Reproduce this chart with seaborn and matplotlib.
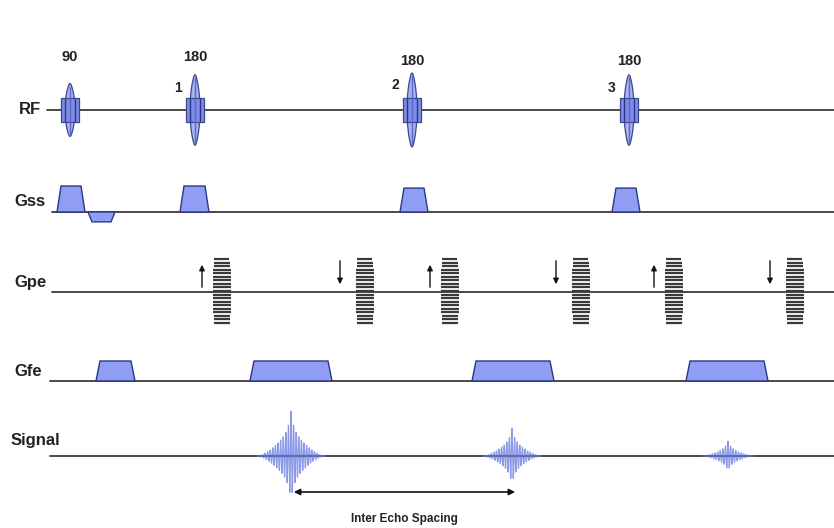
import numpy as np
import pandas as pd
import matplotlib
matplotlib.use("Agg")
import matplotlib.pyplot as plt
import seaborn as sns
from matplotlib.patches import FancyArrowPatch

# ---------------- data (time axis in drawing units) ----------------
row_names = ["RF", "Gss", "Gpe", "Gfe", "Signal"]

rf_times = [70, 195, 412, 629]
rf_flip_labels = ["90", "180", "180", "180"]
rf_index_labels = ["", "1", "2", "3"]
rf_strength = [0.75, 1.0, 1.05, 1.0]

gss_start = [57, 88, 180, 400, 612]
gss_end = [85, 115, 209, 428, 640]
gss_amp = [1.0, -0.38, 1.0, 0.92, 0.92]

gpe_times = [222, 365, 450, 581, 674, 795]
gpe_dirs = ["up", "down", "up", "down", "up", "down"]

gfe_start = [96, 250, 472, 686]
gfe_end = [135, 332, 554, 768]
gfe_amp = [1.0, 1.0, 1.0, 1.0]

echo_times = [291, 512, 728]
echo_amp = [1.0, 0.62, 0.33]

spacing_label = "Inter Echo Spacing"

# ---------------- layout / style ----------------
sns.set_theme(style="white")
plt.rcParams["font.family"] = ["Liberation Sans", "DejaVu Sans"]

W, H = 834, 528
fig = plt.figure(figsize=(W / 100, H / 100), dpi=100)
ax = fig.add_axes([0, 0, 1, 1])
ax.set_xlim(0, W)
ax.set_ylim(H, 0)
ax.axis("off")

base = {"RF": 110, "Gss": 212, "Gpe": 292, "Gfe": 381, "Signal": 456}
label_pos = {"RF": (19, 110), "Gss": (14, 202), "Gpe": (14, 282),
             "Gfe": (14, 372), "Signal": (11, 441)}
line_start = {"RF": 47, "Gss": 52, "Gpe": 52, "Gfe": 50, "Signal": 50}

line_col = "#3a3a3a"
fill_col = "#8f9df2"
edge_col = "#2b3687"
txt_col = "#222222"

for r in row_names:
    ax.plot([line_start[r], W], [base[r], base[r]], color=line_col, lw=1.3, zorder=1)
    lx, ly = label_pos[r]
    ax.text(lx, ly, r, ha="left", va="center", fontsize=12, fontweight="bold", color=txt_col)

# RF pulses
y0 = base["RF"]
for t, flip, idx, s in zip(rf_times, rf_flip_labels, rf_index_labels, rf_strength):
    hh = 35 * s
    u = np.linspace(-1, 1, 80)
    wx = 4.5 * (1 - u ** 2) ** 0.8 + 0.5
    xs = np.concatenate([t + wx, (t - wx)[::-1]])
    ys = np.concatenate([y0 + hh * u, (y0 + hh * u)[::-1]])
    ax.fill(xs, ys, facecolor="#a9b3f3", edgecolor="#3c4690", lw=0.9, zorder=3)
    bw, bh = 9, 12
    ax.fill([t - bw, t + bw, t + bw, t - bw], [y0 - bh, y0 - bh, y0 + bh, y0 + bh],
            facecolor="#7e8ce6", edgecolor="#3c4690", lw=0.9, zorder=4)
    for dx in (-5, 5):
        ax.plot([t + dx, t + dx], [y0 - bh + 1, y0 + bh - 1], color="#2d3680", lw=1.0, zorder=5)
    ax.plot([t, t], [y0 - hh + 3, y0 + hh - 3], color="#5a66c8", lw=1.0, zorder=5)
    ax.text(t, y0 - 53 if idx in ("", "1") else y0 - 49, flip, ha="center",
            va="center", fontsize=10.5, fontweight="bold", color=txt_col)
    if idx:
        ax.text(t - 17, y0 - 22 if idx != "2" else y0 - 25, idx, ha="center", va="center",
                fontsize=10, fontweight="bold", color=txt_col)


def trapezoid(x0, x1, amp, yb, ramp=4):
    xs = [x0, x0 + ramp, x1 - ramp, x1]
    ys = [yb, yb - amp, yb - amp, yb]
    ax.fill(xs, ys, facecolor=fill_col, edgecolor=edge_col, lw=1.0, zorder=3)


for a, b, amp in zip(gss_start, gss_end, gss_amp):
    trapezoid(a, b, 26 * amp, base["Gss"])

for a, b, amp in zip(gfe_start, gfe_end, gfe_amp):
    trapezoid(a, b, 20 * amp, base["Gfe"])

# Gpe phase-encoding tables
yb = base["Gpe"]
n_lines = 19
for t, d in zip(gpe_times, gpe_dirs):
    ys = np.linspace(yb - 33, yb + 31, n_lines)
    for y in ys:
        rel = (y - yb) / 33.0
        hw = 9.5 - 2.0 * rel ** 2
        ax.plot([t - hw, t + hw], [y, y], color="#3a3a3a", lw=1.6, solid_capstyle="butt", zorder=3)
    if d == "up":
        ax_x = t - 20
        arr = FancyArrowPatch((ax_x, yb - 2), (ax_x, yb - 30), arrowstyle="-|>",
                              mutation_scale=8, color="#111111", lw=1.0, zorder=4)
    else:
        ax_x = t - 25
        arr = FancyArrowPatch((ax_x, yb - 34), (ax_x, yb - 5), arrowstyle="-|>",
                              mutation_scale=8, color="#111111", lw=1.0, zorder=4)
    ax.add_patch(arr)

# Echo signals
ys0 = base["Signal"]
frames = []
for k, (t, a) in enumerate(zip(echo_times, echo_amp)):
    half = 34 * (0.65 + 0.35 * a)
    dx = np.linspace(-half, half, 1200)
    u = np.abs(dx) / half
    env = 45 * a * (0.62 * (1 - u) ** 1.6 + 0.38 * np.exp(-np.abs(dx) / 2.5))
    y = ys0 - env * np.cos(2 * np.pi * dx / 2.6)
    frames.append(pd.DataFrame({"x": t + dx, "y": y, "echo": k}))
sig = pd.concat(frames, ignore_index=True)
sns.lineplot(data=sig, x="x", y="y", units="echo", estimator=None, sort=False,
             color="#6478e0", lw=0.9, alpha=0.75, ax=ax, legend=False, zorder=2)
ax.set_xlim(0, W)
ax.set_ylim(H, 0)
ax.axis("off")

# Inter echo spacing arrow
ya = 492
ax.add_patch(FancyArrowPatch((echo_times[0], ya), (echo_times[1] + 6, ya), arrowstyle="<|-|>",
                             mutation_scale=9, color="#111111", lw=1.2, zorder=4))
ax.text((echo_times[0] + echo_times[1] + 6) / 2, 519, spacing_label, ha="center", va="center",
        fontsize=8.5, fontweight="bold", color=txt_col)

fig.savefig("out.png", dpi=100)
